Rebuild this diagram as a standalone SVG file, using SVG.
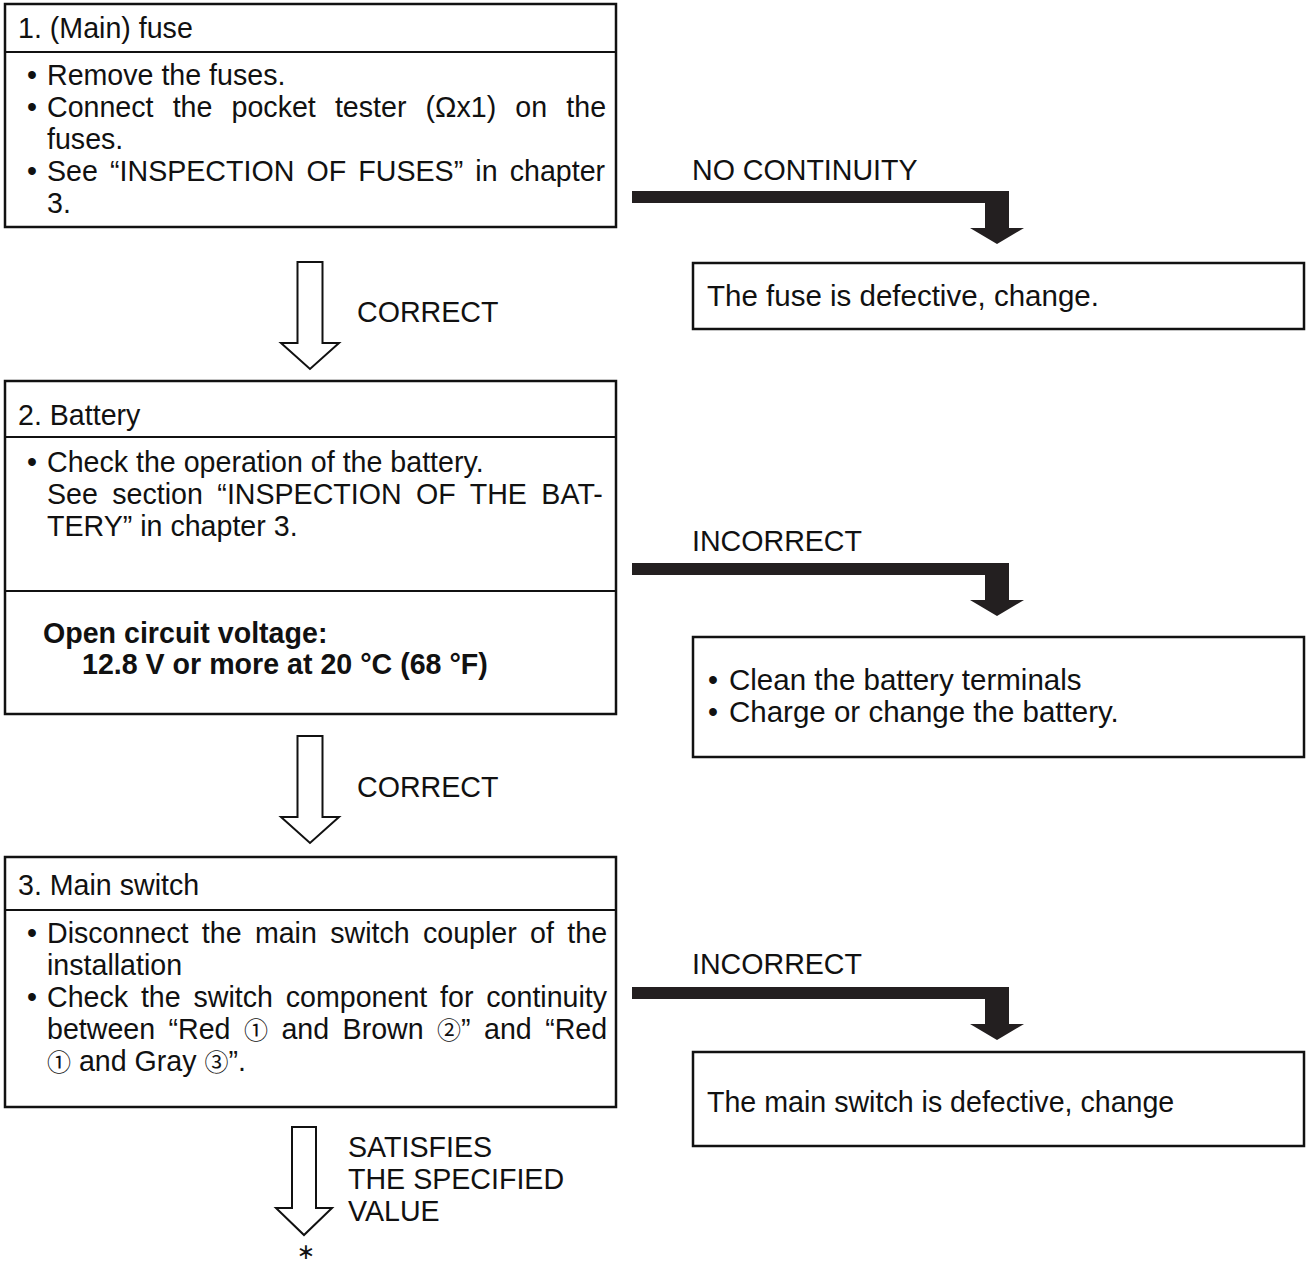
<svg xmlns="http://www.w3.org/2000/svg" width="1306" height="1265" viewBox="0 0 1306 1265">
<style>
.t{font-family:"Liberation Sans",Arial,sans-serif;font-size:28.6px;fill:#111}
.r{font-size:29.5px}
.b{font-weight:bold}
.c{font-family:"Noto Sans CJK JP","DejaVu Sans",sans-serif;font-size:24px}
.box{fill:#fff;stroke:#111;stroke-width:2.5}
.dv{stroke:#111;stroke-width:2}
.arr{fill:#231f20}
.harr{fill:#fff;stroke:#111;stroke-width:2;stroke-linejoin:miter}
</style>
<g id="connectors">
<path class="arr" d="M632,191 H1009 V228 H1024 L997,244 L970,228 H985 V203 H632 Z"/>
<path class="arr" d="M632,563 H1009 V600 H1024 L997,616 L970,600 H985 V575 H632 Z"/>
<path class="arr" d="M632,987 H1009 V1024 H1024 L997,1040 L970,1024 H985 V999 H632 Z"/>
<path class="harr" d="M297.5,262 H322.5 V343 H339 L310,369 L281,343 H297.5 Z"/>
<path class="harr" d="M297.5,736 H322.5 V817 H339 L310,843 L281,817 H297.5 Z"/>
<path class="harr" d="M292,1127 H316 V1208 H332 L304,1235 L276,1208 H292 Z"/>
<text class="t" x="692" y="180">NO CONTINUITY</text>
<text class="t" x="692" y="551">INCORRECT</text>
<text class="t" x="692" y="974">INCORRECT</text>
<text class="t" x="357" y="322">CORRECT</text>
<text class="t" x="357" y="797">CORRECT</text>
<text class="t" x="348" y="1157">SATISFIES</text>
<text class="t" x="348" y="1189">THE SPECIFIED</text>
<text class="t" x="348" y="1221">VALUE</text>
<text x="306" y="1259" text-anchor="middle" style="font-family:'DejaVu Sans',sans-serif;font-size:22px;fill:#111">∗</text>
</g>
<g id="node1">
<rect class="box" x="5" y="4" width="611" height="223"/>
<line class="dv" x1="5" y1="52" x2="616" y2="52"/>
<text class="t" x="18" y="38">1. (Main) fuse</text>
<text class="t" x="27" y="85">•</text><text class="t" x="47" y="85">Remove the fuses.</text>
<text class="t" x="27" y="117">•</text><text class="t" x="47" y="117" word-spacing="11.2">Connect the pocket tester (Ωx1) on the</text>
<text class="t" x="47" y="149">fuses.</text>
<text class="t" x="27" y="181">•</text><text class="t" x="47" y="181" word-spacing="4.2">See “INSPECTION OF FUSES” in chapter</text>
<text class="t" x="47" y="213">3.</text>
</g>
<g id="result1">
<rect class="box" x="693" y="263" width="611" height="66"/>
<text class="t r" x="707" y="306">The fuse is defective, change.</text>
</g>
<g id="node2">
<rect class="box" x="5" y="381" width="611" height="333"/>
<line class="dv" x1="5" y1="437" x2="616" y2="437"/>
<line class="dv" x1="5" y1="591" x2="616" y2="591"/>
<text class="t" x="18" y="425">2. Battery</text>
<text class="t" x="27" y="472">•</text><text class="t" x="47" y="472">Check the operation of the battery.</text>
<text class="t" x="47" y="504" word-spacing="6.5">See section “INSPECTION OF THE BAT-</text>
<text class="t" x="47" y="536">TERY” in chapter 3.</text>
<text class="t b" x="43" y="643">Open circuit voltage:</text>
<text class="t b" x="82" y="674">12.8 V or more at 20 °C (68 °F)</text>
</g>
<g id="result2">
<rect class="box" x="693" y="637" width="611" height="120"/>
<text class="t" x="708" y="690">•</text><text class="t r" x="729" y="690">Clean the battery terminals</text>
<text class="t" x="708" y="722">•</text><text class="t r" x="729" y="722">Charge or change the battery.</text>
</g>
<g id="node3">
<rect class="box" x="5" y="857" width="611" height="250"/>
<line class="dv" x1="5" y1="910" x2="616" y2="910"/>
<text class="t" x="18" y="895">3. Main switch</text>
<text class="t" x="27" y="943">•</text><text class="t" x="47" y="943" word-spacing="5.4">Disconnect the main switch coupler of the</text>
<text class="t" x="47" y="975">installation</text>
<text class="t" x="27" y="1007">•</text><text class="t" x="47" y="1007" word-spacing="4.9">Check the switch component for continuity</text>
<text class="t" x="47" y="1039" word-spacing="5.5">between “Red <tspan class="c">①</tspan> and Brown <tspan class="c">②</tspan>” and “Red</text>
<text class="t" x="47" y="1071"><tspan class="c">①</tspan> and Gray <tspan class="c">③</tspan>”.</text>
</g>
<g id="result3">
<rect class="box" x="693" y="1052" width="611" height="94"/>
<text class="t" x="707" y="1112">The main switch is defective, change</text>
</g>
</svg>
